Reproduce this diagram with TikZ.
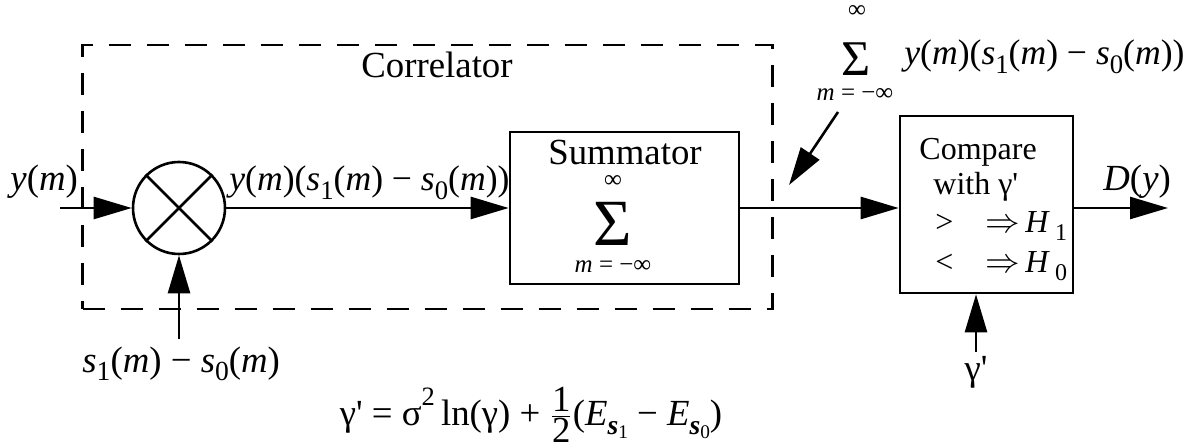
\documentclass[tikz,border=0pt]{standalone}
\usepackage{fontspec}
\usepackage{graphicx}
\setmainfont{Liberation Serif}
\usetikzlibrary{arrows.meta}
\newcommand{\ii}[1]{\textit{#1}}
\newcommand{\pr}{\textquotesingle}
\newcommand{\sbx}[1]{\raisebox{-0.5ex}{\scalebox{0.75}{#1}}}
\newcommand{\bsb}[1]{\raisebox{-0.55ex}{\scalebox{0.75}{\textbf{\textit{s}}\raisebox{-0.3ex}{\scalebox{0.7}{#1}}}}}
\newcommand{\prodlabel}{\ii{y}(\ii{m})(\ii{s}\sbx{1}(\ii{m}) − \ii{s}\sbx{0}(\ii{m}))}
\tikzset{
  blk/.style={draw, line width=1.3pt, rectangle, inner sep=0pt},
  lbl/.style={inner sep=0pt, font=\fontsize{18.4}{22}\selectfont},
  plb/.style={inner sep=0pt, font=\fontsize{17.8}{22}\selectfont},
  sml/.style={inner sep=0pt, font=\fontsize{12.5}{14}\selectfont},
  cmp/.style={inner sep=0pt, font=\fontsize{16}{19}\selectfont},
  conn/.style={line width=1.3pt, -{Triangle[length=19pt,width=11pt]}},
  corrbox/.style={draw, line width=1.3pt, dash pattern=on 11pt off 8pt, rectangle, inner sep=0pt}
}
\begin{document}
\begin{tikzpicture}[x=0.5pt, y=-0.5pt]
\useasboundingbox (0,0) rectangle (1187,448);
% correlator dashed box
\node[corrbox, minimum width=345pt, minimum height=132pt] (corr) at (427.5,177) {};
\node[lbl, anchor=base] (corrlbl) at (437,78) {Correlator};
% multiplier
\node[draw, circle, line width=1.3pt, minimum size=46pt, inner sep=0pt] (mult) at (179,208) {};
\draw[line width=1.3pt] (mult.north west) -- (mult.south east);
\draw[line width=1.3pt] (mult.north east) -- (mult.south west);
% summator
\node[blk, minimum width=114.5pt, minimum height=76pt] (summ) at (624.5,208) {};
\node[lbl, anchor=base] (summlbl) at (625,165) {Summator};
\node[sml] (sinf) at (613,182) {∞};
\node[inner sep=0pt, font=\fontsize{33}{33}\selectfont] (ssig) at (613,224) {Σ};
\node[sml] (slow) at (613,267) {\ii{m} = −∞};
% compare
\node[blk, minimum width=86.5pt, minimum height=88.5pt] (comp) at (986.5,204.5) {};
\node[cmp, anchor=base west] (c1) at (919,160) {Compare};
\node[cmp, anchor=base west] (c2) at (933,195) {with γ\pr};
\node[cmp, anchor=base west] (c3) at (935,233) {>};
\node[cmp, anchor=base west] (c4) at (985,233) {$\Rightarrow$\,\ii{H}\,\sbx{1}};
\node[cmp, anchor=base west] (c5) at (935,273) {<};
\node[cmp, anchor=base west] (c6) at (985,273) {$\Rightarrow$\,\ii{H}\,\sbx{0}};
% inputs / outputs
\coordinate (yin) at (60,208);
\coordinate (sin) at (179,339);
\coordinate (gin) at (976,352);
\coordinate (dout) at (1168,208);
\node[lbl, anchor=base west] (ylbl) at (10,191) {\ii{y}(\ii{m})};
\node[lbl, anchor=base west] (slbl) at (82,372) {\ii{s}\sbx{1}(\ii{m}) − \ii{s}\sbx{0}(\ii{m})};
\node[plb, anchor=base west] (plbl) at (229,191) {\prodlabel};
\node[lbl] (glbl) at (976,372) {γ\pr};
\node[lbl, anchor=base west] (dlbl) at (1103,191) {\ii{D}(\ii{y})};
\draw[conn] (yin) -- (mult.west);
\draw[conn] (sin) -- (mult.south);
\draw[conn] (mult.east) -- (summ.west);
\draw[conn] (summ.east) -- (summ.east -| comp.west);
\draw[conn] (gin) -- (gin |- comp.south);
\draw[conn] (comp.east |- dout) -- (dout);
% top-right sum label
\node[sml] (tinf) at (857,12) {∞};
\node[inner sep=0pt, font=\fontsize{25}{25}\selectfont] (tsig) at (856,59) {Σ};
\node[sml] (tlow) at (855,95) {\ii{m} = −∞};
\node[plb, anchor=base west] (tlbl) at (904,65) {\prodlabel};
\coordinate (astart) at (838,112);
\coordinate (aend) at (789,185);
\draw[conn] (astart) -- (aend);
% formula
\node[lbl] (formula) at (531,415) {γ\pr\ =\ σ\raisebox{1.2ex}{\scalebox{0.72}{2}}\,ln(γ) + $\frac{\mbox{1}}{\mbox{2}}$(\ii{E}\bsb{1} − \ii{E}\bsb{0})};
\end{tikzpicture}
\end{document}
